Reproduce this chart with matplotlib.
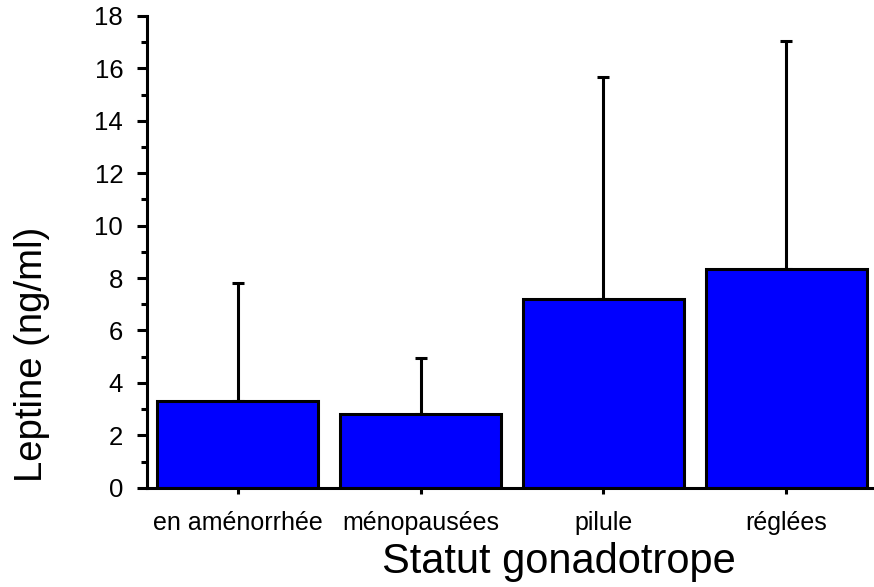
import matplotlib
matplotlib.use("Agg")
from matplotlib import pyplot as plt
from matplotlib.ticker import MultipleLocator

plt.rcParams['font.family'] = ['Liberation Sans', 'DejaVu Sans']

categories = ['en aménorrhée', 'ménopausées', 'pilule', 'réglées']
means = [3.3, 2.8, 7.2, 8.35]
sd_upper = [4.5, 2.15, 8.45, 8.7]

fig = plt.figure(figsize=(8.74, 5.87), dpi=100)
ax = fig.add_axes([0.168, 0.169, 0.832, 0.804])

x = list(range(len(categories)))
ax.bar(x, means, width=0.88, color='#0000FF', edgecolor='black', linewidth=2.2, zorder=2)
ax.errorbar(x, means, yerr=[[0] * len(x), sd_upper], fmt='none', ecolor='black',
            elinewidth=2.2, capsize=4.5, capthick=2.2, zorder=1)

ax.set_xlim(-0.497, 3.48)
ax.set_ylim(0, 18)
ax.yaxis.set_major_locator(MultipleLocator(2))
ax.yaxis.set_minor_locator(MultipleLocator(1))
ax.set_xticks(x)
ax.set_xticklabels(categories, fontsize=18)

for s in ['top', 'right']:
    ax.spines[s].set_visible(False)
for s in ['left', 'bottom']:
    ax.spines[s].set_linewidth(2.2)
    ax.spines[s].set_clip_on(False)

ax.tick_params(axis='y', which='major', length=7, width=2.2, labelsize=18.5, pad=10)
ax.tick_params(axis='y', which='minor', length=4, width=2.2)
ax.tick_params(axis='x', which='major', length=4, width=2.2, pad=12.5)

ax.set_ylabel('Leptine (ng/ml)', fontsize=27.5)
ax.set_xlabel('Statut gonadotrope', fontsize=30)
# the original picture is cropped, so the titles sit off-centre
ax.yaxis.set_label_coords(-0.133, 0.282)
ax.xaxis.set_label_coords(0.567, -0.114)

fig.savefig('out.png', dpi=100)
